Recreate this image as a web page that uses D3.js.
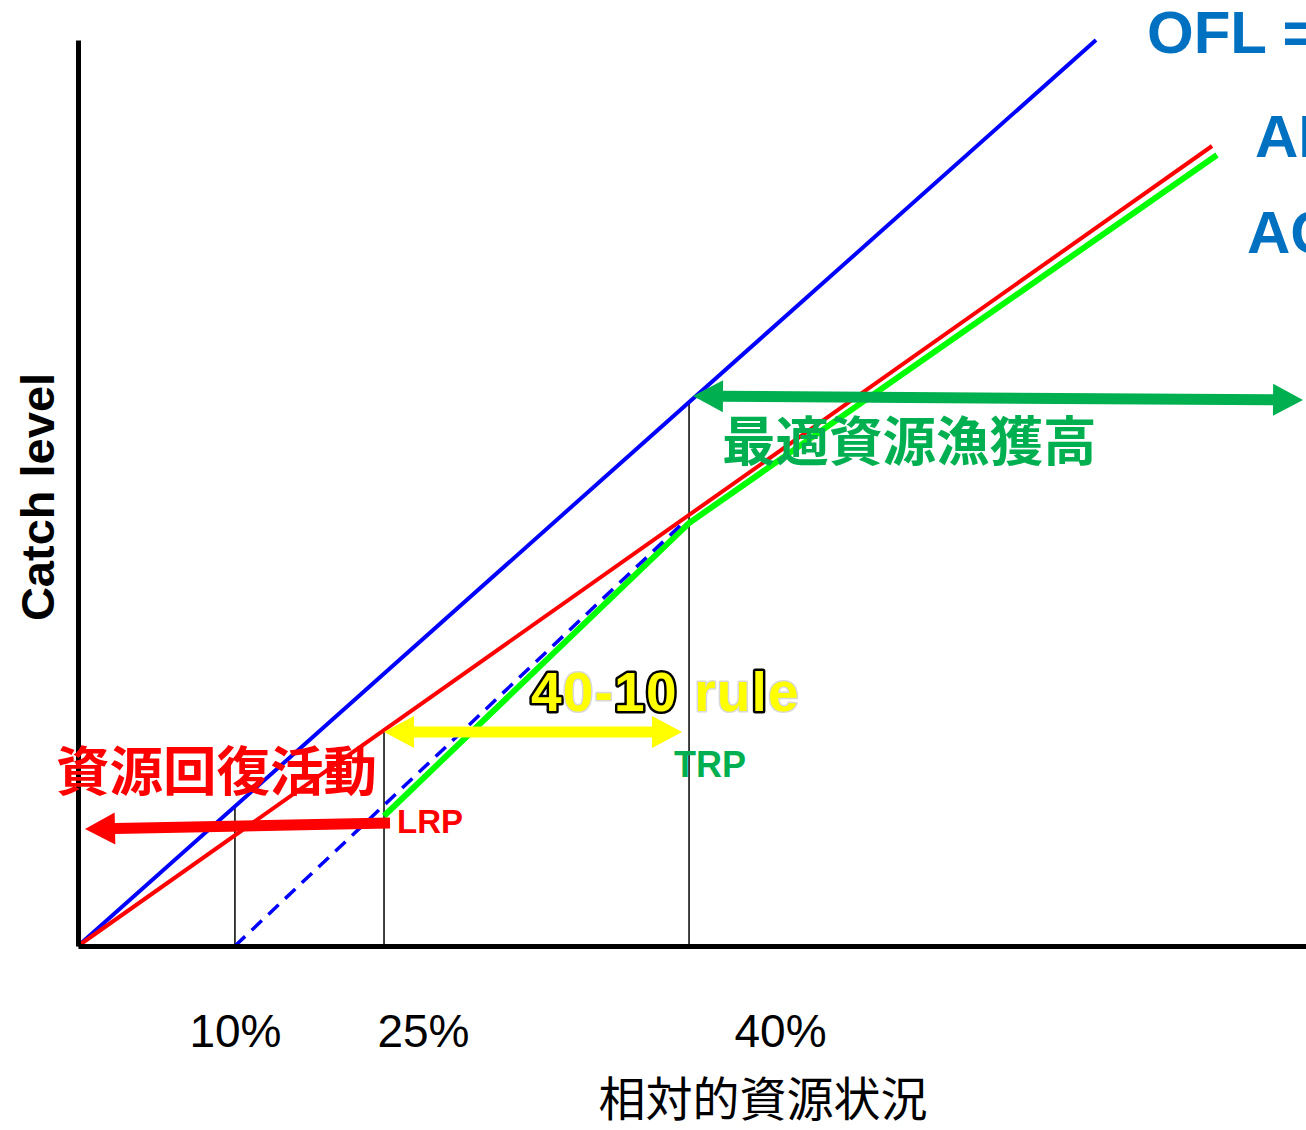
<!DOCTYPE html>
<html>
<head>
<meta charset="utf-8">
<script src="https://cdn.jsdelivr.net/npm/d3@7"></script>
<style>
  body { margin: 0; background: #fff; }
  svg { display: block; }
</style>
</head>
<body>
<div id="chart"></div>
<script>
// values, in axis units (0-100 on both axes)
var oflLine = [[0, 0], [82.9, 100]];
var oflShifted = [[12.78, 0], [49.35, 46.8]];
var abcLine = [[0, 0], [92.35, 88.3]];
var aclLine = [[24.92, 14.35], [49.76, 46.69], [92.75, 87.31]];
var refLines = [
  {name: "10%", x: 12.78, top: 15.4},
  {name: "LRP", x: 24.92, top: 23.83},
  {name: "TRP", x: 49.76, top: 60.0}
];
var tickLabels = ["10%", "25%", "40%"];
var tickValues = [12.78, 28.09, 57.17];
var arrows = [
  {from: [50.08, 60.7], to: [99.76, 60.26], both: true, color: "#00b050"},
  {from: [24.92, 23.62], to: [49.19, 23.62], both: true, color: "#ffff00"},
  {from: [25.41, 13.58], to: [0.57, 12.91], both: false, color: "#ff0000"}
];

var width = 1306,
    height = 1130;

var x = d3.scaleLinear().domain([0, 100]).range([78, 1306]);
var y = d3.scaleLinear().domain([0, 100]).range([946, 40]);

var svg = d3.select("#chart").append("svg")
    .attr("width", width)
    .attr("height", height)
    .style("font-family", "'Liberation Sans', Arial, sans-serif");

svg.append("rect").attr("width", width).attr("height", height).attr("fill", "#fff");

var line = d3.line()
    .x(function (d) { return x(d[0]); })
    .y(function (d) { return y(d[1]); });

// thin reference verticals
svg.selectAll(".ref")
    .data(refLines)
    .enter().append("line")
    .attr("class", "ref")
    .attr("x1", function (d) { return x(d.x); })
    .attr("x2", function (d) { return x(d.x); })
    .attr("y1", y(0))
    .attr("y2", function (d) { return y(d.top); })
    .attr("stroke", "#000")
    .attr("stroke-width", 1.5);

svg.append("path").datum(oflLine)
    .attr("d", line).attr("fill", "none")
    .attr("stroke", "#0000ff").attr("stroke-width", 4);

svg.append("path").datum(abcLine)
    .attr("d", line).attr("fill", "none")
    .attr("stroke", "#ff0000").attr("stroke-width", 4);

svg.append("path").datum(aclLine)
    .attr("d", line).attr("fill", "none")
    .attr("stroke", "#00ff00").attr("stroke-width", 6);

// dashed OFL shifted to the 10% point
svg.append("path").datum(oflShifted)
    .attr("d", line).attr("fill", "none")
    .attr("stroke", "#0000ff").attr("stroke-width", 3.5)
    .attr("stroke-dasharray", "14,9");

// block arrows
function arrowPath(d) {
  var x0 = x(d.from[0]), y0 = y(d.from[1]),
      x1 = x(d.to[0]), y1 = y(d.to[1]);
  var len = Math.hypot(x1 - x0, y1 - y0),
      ux = (x1 - x0) / len, uy = (y1 - y0) / len,
      nx = -uy, ny = ux;
  var t = 5.5, hl = 30, hw = 16;
  var pts = [];
  function p(a, b) { pts.push([x0 + ux * a + nx * b, y0 + uy * a + ny * b]); }
  if (d.both) { p(0, 0); p(hl, -hw); p(hl, -t); } else { p(0, -t); }
  p(len - hl, -t); p(len - hl, -hw); p(len, 0); p(len - hl, hw); p(len - hl, t);
  if (d.both) { p(hl, t); p(hl, hw); } else { p(0, t); }
  return "M" + pts.map(function (q) { return q.join(","); }).join("L") + "Z";
}

svg.selectAll(".arrow")
    .data(arrows)
    .enter().append("path")
    .attr("class", "arrow")
    .attr("d", arrowPath)
    .attr("fill", function (d) { return d.color; });

// axes
var xAxis = d3.axisBottom(x).tickValues(tickValues)
    .tickFormat(function (d, i) { return tickLabels[i]; })
    .tickSize(0).tickPadding(68);
var gx = svg.append("g").attr("transform", "translate(0," + y(0) + ")").call(xAxis);
gx.select(".domain").attr("stroke", "#000").attr("stroke-width", 5);
gx.selectAll("text").attr("font-size", 46).attr("fill", "#000")
    .style("font-family", "'Liberation Sans', Arial, sans-serif");

var yAxis = d3.axisLeft(y).tickValues([]).tickSizeOuter(0);
var gy = svg.append("g").attr("transform", "translate(" + x(0) + ",0)").call(yAxis);
gy.select(".domain").attr("stroke", "#000").attr("stroke-width", 5);

svg.append("text")
    .attr("transform", "translate(54,497) rotate(-90)")
    .attr("text-anchor", "middle")
    .attr("font-size", 47).attr("font-weight", "bold")
    .text("Catch level");

svg.append("text")
    .attr("x", 763).attr("y", 1116)
    .attr("text-anchor", "middle")
    .attr("font-size", 47)
    .style("font-family", "'Noto Sans CJK JP', sans-serif")
    .text("相対的資源状況");

// labels
var blue = "#0070c0";
svg.append("text").attr("x", 1147).attr("y", 53)
    .attr("font-size", 60).attr("font-weight", "bold").attr("fill", blue).text("OFL =");
svg.append("text").attr("x", 1255).attr("y", 157)
    .attr("font-size", 60).attr("font-weight", "bold").attr("fill", blue).text("ABC");
svg.append("text").attr("x", 1247).attr("y", 253)
    .attr("font-size", 60).attr("font-weight", "bold").attr("fill", blue).text("ACL");

svg.append("text").attr("x", 722).attr("y", 461)
    .attr("font-size", 53.5).attr("font-weight", "bold").attr("fill", "#00b050")
    .style("font-family", "'Noto Sans CJK JP', sans-serif")
    .text("最適資源漁獲高");

svg.append("text").attr("x", 56).attr("y", 791)
    .attr("font-size", 53.5).attr("font-weight", "bold").attr("fill", "#ff0000")
    .style("font-family", "'Noto Sans CJK JP', sans-serif")
    .text("資源回復活動");

svg.append("text").attr("x", 397).attr("y", 833)
    .attr("font-size", 33).attr("font-weight", "bold").attr("fill", "#ff0000").text("LRP");

svg.append("text").attr("x", 674).attr("y", 777)
    .attr("font-size", 36).attr("font-weight", "bold").attr("fill", "#00b050").text("TRP");

// 40-10 rule: some glyphs outlined in black, others in light grey
var ruleChars = [["4", 1], ["0", 0], ["-", 0], ["1", 1], ["0", 1], [" ", 0],
                 ["r", 0], ["u", 0], ["l", 1], ["e", 0]];
svg.append("text").attr("x", 531).attr("y", 711)
    .attr("font-size", 55).attr("font-weight", "bold")
    .attr("letter-spacing", 1.2)
    .attr("fill", "#ffff00").attr("paint-order", "stroke")
    .style("white-space", "pre")
    .selectAll("tspan")
    .data(ruleChars)
    .enter().append("tspan")
    .attr("stroke", function (d) { return d[1] ? "#000" : "#d8d8d8"; })
    .attr("stroke-width", function (d) { return d[1] ? 5 : 3; })
    .attr("stroke-linejoin", "round")
    .text(function (d) { return d[0]; });
</script>
</body>
</html>
